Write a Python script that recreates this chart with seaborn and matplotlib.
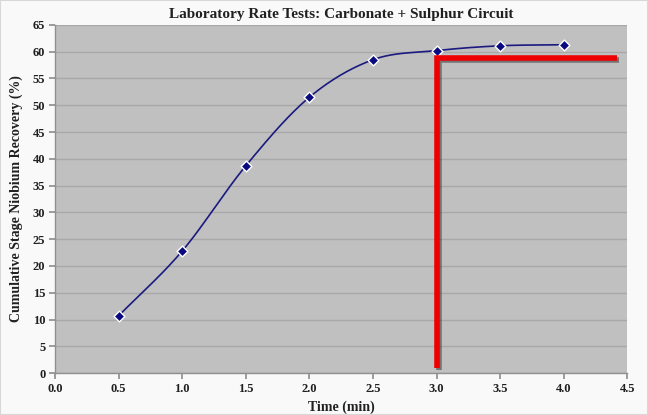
import numpy as np
import pandas as pd
import matplotlib
matplotlib.use("Agg")
import matplotlib.pyplot as plt
import matplotlib.patheffects as pe
import seaborn as sns

time_min = [0.5, 1.0, 1.5, 2.0, 2.5, 3.0, 3.5, 4.0]
recovery = [10.7, 22.8, 38.7, 51.5, 58.5, 60.2, 61.1, 61.3]
marker_x = [3.0, 3.0, 4.42]
marker_y = [1.0, 58.8, 58.8]
xticks = [0.0, 0.5, 1.0, 1.5, 2.0, 2.5, 3.0, 3.5, 4.0, 4.5]
yticks = list(range(0, 70, 5))

df = pd.DataFrame({"Time (min)": time_min, "Recovery": recovery})

def catmull_rom(x, y, n=30):
    x = np.asarray(x, float); y = np.asarray(y, float)
    px = np.concatenate([[2*x[0]-x[1]], x, [2*x[-1]-x[-2]]])
    py = np.concatenate([[2*y[0]-y[1]], y, [2*y[-1]-y[-2]]])
    ox, oy = [], []
    t = np.linspace(0, 1, n)
    for i in range(1, len(px)-2):
        for P, out in ((px, ox), (py, oy)):
            p0, p1, p2, p3 = P[i-1], P[i], P[i+1], P[i+2]
            out.append(0.5*((2*p1) + (-p0+p2)*t + (2*p0-5*p1+4*p2-p3)*t**2 + (-p0+3*p1-3*p2+p3)*t**3))
    return np.concatenate(ox), np.concatenate(oy)

sns.set_theme(style="white")
plt.rcParams['font.family'] = ['Liberation Serif', 'DejaVu Serif']

fig = plt.figure(figsize=(6.48, 4.15), dpi=100, facecolor="#f9f9f9")
fig.patches.append(plt.Rectangle((0, 0), 1, 1, transform=fig.transFigure, fill=False,
                                 edgecolor="#d8d8d8", linewidth=1.5))
ax = fig.add_axes([0.085, 0.101, 0.883, 0.839])
ax.set_facecolor("#c0c0c0")

sx, sy = catmull_rom(time_min, recovery)
sns.lineplot(x=sx, y=sy, ax=ax, color="#1a1a80", linewidth=1.2, sort=False)
sns.scatterplot(data=df, x="Time (min)", y="Recovery", ax=ax, marker="D", s=30,
                color="#0a0a80", edgecolor="white", linewidth=1.0, zorder=5)
ax.plot(marker_x, marker_y, color="#ee0000", linewidth=4, solid_capstyle="butt",
        solid_joinstyle="miter", zorder=6,
        path_effects=[pe.SimpleLineShadow(offset=(1.5, -1.5), shadow_color="#404040", alpha=0.6), pe.Normal()])

ax.set_xlim(0, 4.5)
ax.set_ylim(0, 65)
ax.set_xticks(xticks)
ax.set_xticklabels([f"{v:.1f}" for v in xticks])
ax.set_yticks(yticks)
ax.yaxis.grid(True, color="#a8a8a8", linewidth=1)
ax.xaxis.grid(False)
for s in ["top", "right"]:
    ax.spines[s].set_visible(False)
for s in ["left", "bottom"]:
    ax.spines[s].set_color("#909090")
    ax.spines[s].set_linewidth(1)
ax.tick_params(axis="both", which="both", length=4, color="#909090", labelsize=9, pad=3,
               bottom=True, left=True)
for lab in ax.get_xticklabels() + ax.get_yticklabels():
    lab.set_fontweight("bold")
    lab.set_color("#202020")
ax.set_xlabel("Time (min)", fontsize=10, fontweight="bold", labelpad=4, color="#202020")
ax.set_ylabel("Cumulative Stage Niobium Recovery (%)", fontsize=10, fontweight="bold", labelpad=7, color="#202020")
ax.set_title("Laboratory Rate Tests: Carbonate + Sulphur Circuit", fontsize=11, fontweight="bold",
             color="#202020", pad=5)

fig.savefig("out.png", dpi=100, facecolor=fig.get_facecolor())
